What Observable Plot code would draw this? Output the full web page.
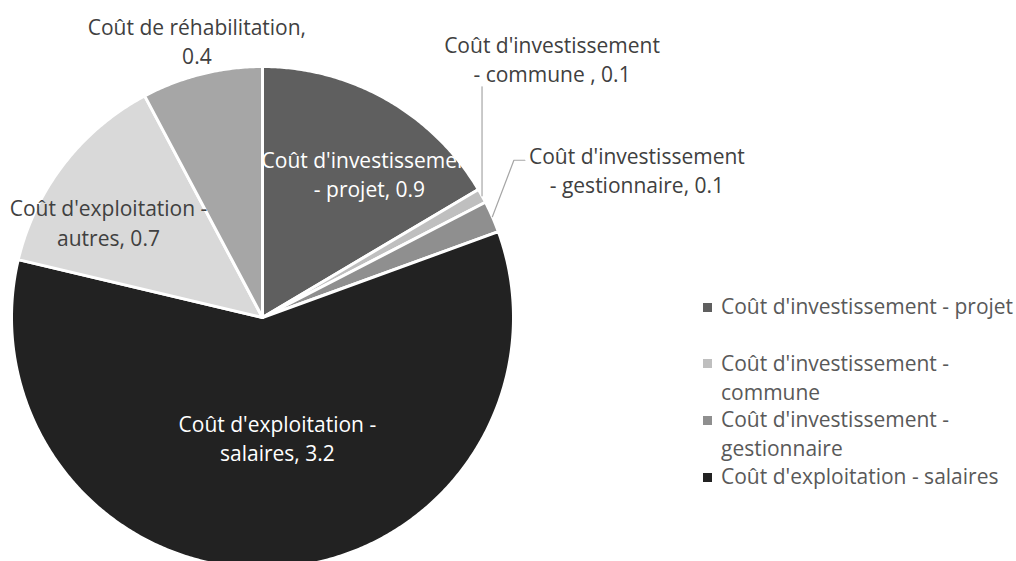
<!DOCTYPE html>
<html>
<head>
<meta charset="utf-8">
<script src="https://cdn.jsdelivr.net/npm/d3@7"></script>
<script src="https://cdn.jsdelivr.net/npm/@observablehq/plot@0.6"></script>
<style>
  html, body { margin: 0; padding: 0; background: #fff; overflow: hidden; }
  #wrap { position: relative; width: 1016px; height: 561px; overflow: hidden; font-family: "Open Sans", sans-serif; }
  #legend { position: absolute; left: 0; top: 0; }
  .sw { position: absolute; width: 9px; height: 9px; }
  .lt { position: absolute; white-space: pre; font-size: 21px; line-height: 29px; color: #595959; }
</style>
</head>
<body>
<div id="wrap"><div id="legend"></div></div>
<script>
// ---- data ----
const categories = [
  "Coût d'investissement - projet",
  "Coût d'investissement - commune",
  "Coût d'investissement - gestionnaire",
  "Coût d'exploitation - salaires",
  "Coût d'exploitation - autres",
  "Coût de réhabilitation"
];
const values = [0.89, 0.05, 0.11, 3.2, 0.73, 0.42];
const labelPrefixes = [
  "Coût d'investissement\n- projet, ",
  "Coût d'investissement\n- commune , ",
  "Coût d'investissement\n- gestionnaire, ",
  "Coût d'exploitation -\nsalaires, ",
  "Coût d'exploitation -\nautres, ",
  "Coût de réhabilitation,\n"
];
const legendLabels = [
  "Coût d'investissement - projet",
  "Coût d'investissement -\ncommune",
  "Coût d'investissement -\ngestionnaire",
  "Coût d'exploitation - salaires"
];
const legendCount = 4;

// ---- style / layout ----
const colors = ["#5f5f5f", "#bfbfbf", "#8f8f8f", "#222222", "#d9d9d9", "#a6a6a6"];
const labelFill = ["white", "#404040", "#404040", "white", "#404040", "#404040"];
// radial factor and pixel nudges for each label
const labelPlace = [
  {k: 0.70, dx: 20, dy: 8},
  {k: 1.00, dx: 70, dy: -138},
  {k: 1.00, dx: 144.5, dy: -47.5},
  {k: 0.47, dx: 8, dy: 2},
  {k: 0.75, dx: -5, dy: 19},
  {k: 1.13, dx: 3, dy: -2.5}
];
const cx = 262, cy = 317, R = 251;
const W = 1016, H = 561;
const fontSize = 21;

// ---- geometry from data ----
const total = d3.sum(values);
let acc = 0;
const slices = categories.map((c, i) => {
  const a0 = acc / total * 2 * Math.PI;
  acc += values[i];
  const a1 = acc / total * 2 * Math.PI;
  const pts = [{x: 0, y: 0}];
  const n = Math.max(2, Math.ceil((a1 - a0) / (Math.PI / 360)));
  for (let j = 0; j <= n; j++) {
    const a = a0 + (a1 - a0) * j / n;
    pts.push({x: Math.sin(a), y: Math.cos(a)});
  }
  pts.push({x: 0, y: 0});
  const mid = (a0 + a1) / 2;
  const p = labelPlace[i];
  const lx = p.k * Math.sin(mid) + p.dx / R;
  const ly = p.k * Math.cos(mid) - p.dy / R;
  return {
    cat: c, i, a0, a1, mid, pts,
    edge: {x: Math.sin(mid), y: Math.cos(mid)},
    label: {x: lx, y: ly, text: labelPrefixes[i] + d3.format(".1f")(values[i]), fill: labelFill[i]}
  };
});

// leader lines (commune, gestionnaire)
const sC = slices[1], sG = slices[2];
const leaderC = [sC.edge, {x: sC.edge.x, y: sC.label.y - 29 / R}];
const leaderG = [sG.edge, {x: sG.label.x - 123 / R, y: sG.label.y + 9 / R}, {x: sG.label.x - 112 / R, y: sG.label.y + 9 / R}];

const marks = [];
slices.forEach(s => {
  marks.push(Plot.line(s.pts, {x: "x", y: "y", fill: colors[s.i], stroke: "white", strokeWidth: 3, strokeLinejoin: "round"}));
});
marks.push(Plot.line(leaderC, {x: "x", y: "y", stroke: "#a6a6a6", strokeWidth: 1.2}));
marks.push(Plot.line(leaderG, {x: "x", y: "y", stroke: "#a6a6a6", strokeWidth: 1.2}));
marks.push(Plot.text(slices.map(s => s.label), {
  x: "x", y: "y", text: "text", fill: "fill",
  textAnchor: "middle", lineAnchor: "middle", lineHeight: 1.4,
  fontSize: fontSize, fontFamily: "Open Sans"
}));

const chart = Plot.plot({
  width: W, height: H,
  margin: 0,
  x: {domain: [-1, 1], range: [cx - R, cx + R], axis: null},
  y: {domain: [-1, 1], range: [cy + R, cy - R], axis: null},
  style: {fontFamily: "Open Sans", fontSize: fontSize + "px", background: "white"},
  marks
});
document.getElementById("wrap").insertBefore(chart, document.getElementById("legend"));

// ---- legend ----
const leg = document.getElementById("legend");
for (let i = 0; i < legendCount; i++) {
  const y = 307 + i * 56.7;
  const sw = document.createElement("div");
  sw.className = "sw";
  sw.style.left = "703px";
  sw.style.top = (y - 4.5) + "px";
  sw.style.background = colors[i];
  const t = document.createElement("div");
  t.className = "lt";
  t.style.left = "721px";
  t.style.top = (y - 15) + "px";
  t.textContent = legendLabels[i];
  leg.appendChild(sw);
  leg.appendChild(t);
}
</script>
</body>
</html>
